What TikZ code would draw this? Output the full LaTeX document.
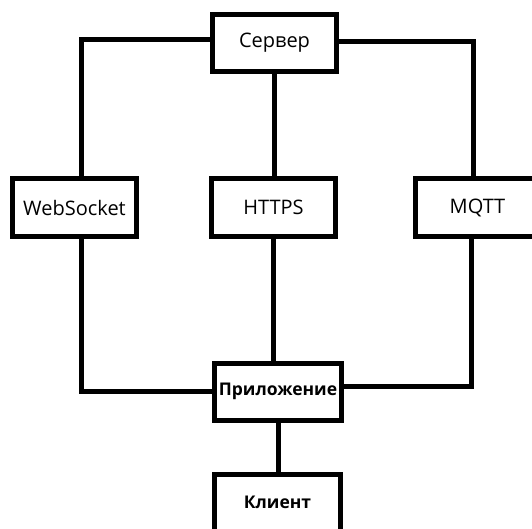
\documentclass[tikz,border=0pt]{standalone}
\usepackage{fontspec}
\setmainfont{Open Sans}
\begin{document}
\begin{tikzpicture}[x=1pt,y=-1pt,
  box/.style={draw=black, line width=5pt, minimum width=124pt, minimum height=57pt, inner sep=0pt, font=\fontsize{20}{22}\selectfont},
  boldbox/.style={box, font=\fontsize{17.5}{20}\selectfont\bfseries},
  link/.style={draw=black, line width=5pt}]
\useasboundingbox (0,0) rectangle (532,529);
\clip (0,0) rectangle (532,529);
\node[box] (server) at (274.5,43) {Сервер};
\node[box, minimum height=58pt] (ws) at (74.5,207.5) {WebSocket};
\node[box, minimum height=58pt] (https) at (273.5,207.5) {HTTPS};
\node[box, minimum height=58pt] (mqtt) at (477.5,207.5) {MQTT};
\node[boldbox, minimum width=127pt] (app) at (278,391.5) {Приложение};
\node[boldbox, minimum width=126pt] (client) at (277.5,502.5) {Клиент};
\draw[link] ([yshift=3pt]server.west) -| ([xshift=6.5pt]ws.north);
\draw[link] ([yshift=1pt]server.east) -| ([xshift=-4pt]mqtt.north);
\draw[link] (server.south) -- (server.south |- https.north);
\draw[link] (https.south) -- (https.south |- app.north);
\draw[link] ([xshift=6.5pt]ws.south) |- (app.west);
\draw[link] ([xshift=-6pt]mqtt.south) |- ([yshift=5pt]app.east);
\draw[link] (app.south) -- (app.south |- client.north);
\end{tikzpicture}
\end{document}
